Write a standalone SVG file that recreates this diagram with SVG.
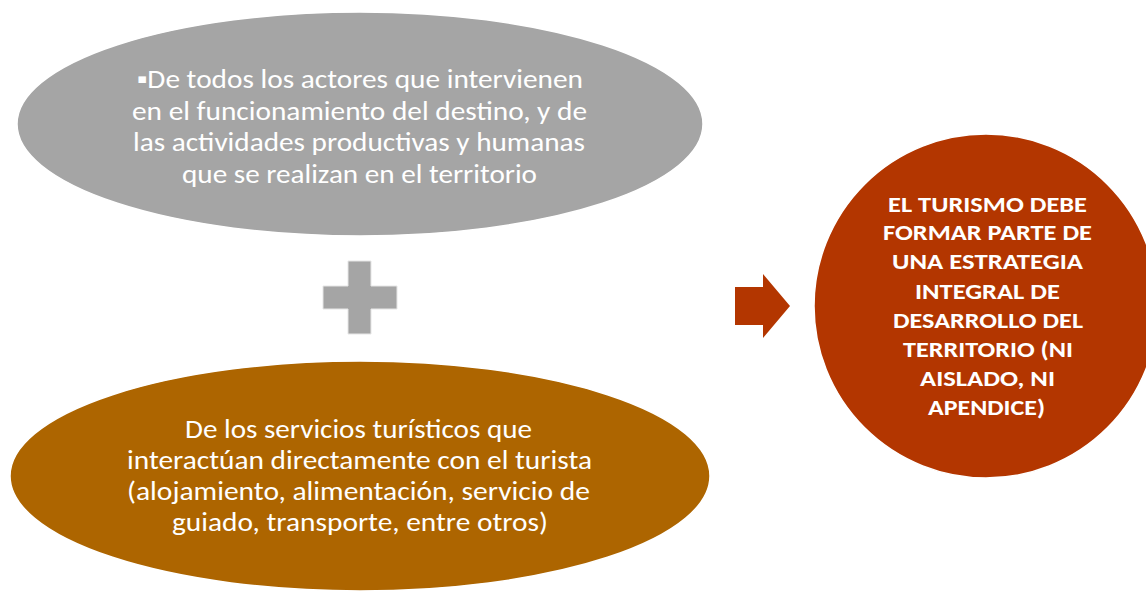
<svg xmlns="http://www.w3.org/2000/svg" width="1146" height="591" viewBox="0 0 1146 591">
<style>
.t{font-family:Carlito,"Open Sans","Liberation Sans",sans-serif;font-size:26px;fill:#fff;text-anchor:middle}
.b{font-family:Carlito,"Open Sans","Liberation Sans",sans-serif;font-size:22px;font-weight:bold;fill:#fff;text-anchor:middle}
</style>
<rect width="1146" height="591" fill="#fff"/>
<g id="node-actores">
<ellipse cx="360" cy="124" rx="343" ry="112" fill="#A5A5A5" stroke="#fff" stroke-width="1.5"/>
<text class="t" x="360" y="88" textLength="446" lengthAdjust="spacingAndGlyphs">▪De todos los actores que intervienen</text>
<text class="t" x="359.5" y="120" textLength="455" lengthAdjust="spacingAndGlyphs">en el funcionamiento del destino, y de</text>
<text class="t" x="359" y="151" textLength="452" lengthAdjust="spacingAndGlyphs">las actividades productivas y humanas</text>
<text class="t" x="359.5" y="183" textLength="355" lengthAdjust="spacingAndGlyphs">que se realizan en el territorio</text>
</g>
<g id="node-plus">
<path d="M348,261 H371 V286 H397 V309 H371 V334 H348 V309 H323 V286 H348 Z" fill="#A5A5A5" stroke="#e6e6e6" stroke-width="1"/>
</g>
<g id="node-servicios">
<ellipse cx="360" cy="476" rx="350" ry="115" fill="#AD6500" stroke="#fff" stroke-width="1.5"/>
<text class="t" x="358.5" y="438" textLength="347" lengthAdjust="spacingAndGlyphs">De los servicios turísticos que</text>
<text class="t" x="359.5" y="469" textLength="465" lengthAdjust="spacingAndGlyphs">interactúan directamente con el turista</text>
<text class="t" x="358.5" y="500" textLength="463" lengthAdjust="spacingAndGlyphs">(alojamiento, alimentación, servicio de</text>
<text class="t" x="360" y="531" textLength="376" lengthAdjust="spacingAndGlyphs">guiado, transporte, entre otros)</text>
</g>
<g id="connectors">
<path d="M735,287 H763 V274 L790,306 L763,338 V325 H735 Z" fill="#B33600"/>
</g>
<g id="node-turismo">
<circle cx="986" cy="306" r="172" fill="#B33600" stroke="#fff" stroke-width="1.5"/>
<text class="b" x="987.5" y="212" textLength="199" lengthAdjust="spacingAndGlyphs">EL TURISMO DEBE</text>
<text class="b" x="987.5" y="240" textLength="209" lengthAdjust="spacingAndGlyphs">FORMAR PARTE DE</text>
<text class="b" x="987.5" y="269" textLength="191" lengthAdjust="spacingAndGlyphs">UNA ESTRATEGIA</text>
<text class="b" x="987.5" y="299" textLength="145" lengthAdjust="spacingAndGlyphs">INTEGRAL DE</text>
<text class="b" x="988" y="328" textLength="190" lengthAdjust="spacingAndGlyphs">DESARROLLO DEL</text>
<text class="b" x="988" y="357" textLength="170" lengthAdjust="spacingAndGlyphs">TERRITORIO (NI</text>
<text class="b" x="987.5" y="386" textLength="135" lengthAdjust="spacingAndGlyphs">AISLADO, NI</text>
<text class="b" x="986.5" y="415" textLength="117" lengthAdjust="spacingAndGlyphs">APENDICE)</text>
</g>
</svg>
